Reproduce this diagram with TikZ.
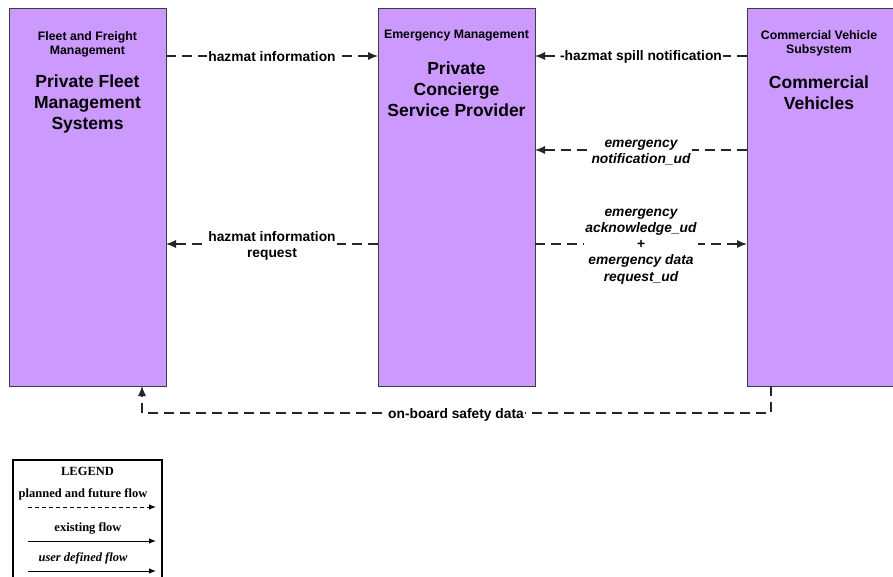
\documentclass[tikz,border=0pt]{standalone}
\usepackage{fontspec}
\setmainfont{Liberation Sans}
\newfontfamily\legfont{Liberation Serif}
\usetikzlibrary{arrows.meta}
\definecolor{boxfill}{RGB}{204,153,255}
\definecolor{boxline}{RGB}{60,60,70}
\begin{document}
\begin{tikzpicture}[x=1pt,y=-1pt,
  box/.style={draw=boxline, line width=1.2pt, fill=boxfill, anchor=north west, inner sep=0pt},
  hdr/.style={font=\fontsize{12.3}{14}\selectfont\bfseries, align=center, inner sep=0pt},
  ttl/.style={font=\fontsize{17.5}{21}\selectfont\bfseries, align=center, inner sep=0pt},
  lbl/.style={font=\fontsize{13.8}{16.2}\selectfont\bfseries, align=center, fill=white, inner sep=1.5pt},
  ilbl/.style={lbl, font=\fontsize{13.8}{16.2}\selectfont\bfseries\itshape},
  flow/.style={draw=black!85, line width=1.1pt, dash pattern=on 10pt off 6pt, -{Latex[length=10pt,width=8pt]}},
  leg/.style={font=\legfont\fontsize{12.5}{14}\selectfont\bfseries, inner sep=0pt},
  legarrow/.style={draw=black, line width=1pt, -{Latex[length=7pt,width=5.5pt]}}
]
\useasboundingbox (0,0) rectangle (893,577);

% boxes
\node[box, minimum width=157pt, minimum height=378pt] (fm) at (9,8) {};
\node[box, minimum width=157pt, minimum height=378pt] (em) at (378,8) {};
\node[box, minimum width=157pt, minimum height=378pt] (cv) at (747,8) {};

% box texts
\node[hdr] (fmh) at (87.5,44) {Fleet and Freight\\Management};
\node[ttl] (fmt) at (87.5,104) {Private Fleet\\Management\\Systems};
\node[hdr] (emh) at (456.5,36) {Emergency Management};
\node[ttl] (emt) at (456.5,89) {Private\\Concierge\\Service Provider};
\node[hdr] (cvh) at (819,43) {Commercial Vehicle\\Subsystem};
\node[ttl] (cvt) at (819,93) {Commercial\\Vehicles};

% coordinates for flows
\coordinate (fmR56) at (166,56);
\coordinate (emL56) at (378,56);
\coordinate (emR56) at (535,56);
\coordinate (cvL56) at (747,56);
\coordinate (emR150) at (535,150);
\coordinate (cvL150) at (747,150);
\coordinate (emR244) at (535,244);
\coordinate (cvL244) at (747,244);
\coordinate (emL244) at (378,244);
\coordinate (fmR244) at (166,244);
\coordinate (cvB) at (771,386);
\coordinate (c1) at (771,413);
\coordinate (c2) at (142,413);
\coordinate (fmB) at (142,386);

\draw[flow] (fmR56) -- (emL56);
\node[lbl] (l1) at (272,57) {hazmat information};
\draw[flow] (cvL56) -- (emR56);
\node[lbl] (l2) at (641,57) {-hazmat spill notification};
\draw[flow] (cvL150) -- (emR150);
\node[ilbl] (l3) at (641,152.5) {emergency\\notification\_ud};
\draw[flow] (emR244) -- (cvL244);
\node[ilbl] (l4) at (641,246.5) {emergency\\acknowledge\_ud\\+\\emergency data\\request\_ud};
\draw[flow] (emL244) -- (fmR244);
\node[lbl] (l5) at (272,246) {hazmat information\\request};
\draw[flow] (cvB) -- (c1) -- (c2) -- (fmB);
\node[lbl] (l6) at (456,415) {on-board safety data};

% legend
\draw[line width=1.2pt] (13,578) -- (13,460) -- (162,460) -- (162,578);
\node[leg] (lg) at (87.5,471) {LEGEND};
\node[leg] (lg1) at (83,494) {planned and future flow};
\coordinate (a1) at (28,507); \coordinate (b1) at (156,507);
\draw[legarrow, dash pattern=on 4pt off 3pt] (a1) -- (b1);
\node[leg] (lg2) at (88,528) {existing flow};
\coordinate (a2) at (28,541); \coordinate (b2) at (156,541);
\draw[legarrow] (a2) -- (b2);
\node[leg, font=\legfont\fontsize{12.5}{14}\selectfont\bfseries\itshape] (lg3) at (83,558) {user defined flow};
\coordinate (a3) at (28,571); \coordinate (b3) at (156,571);
\draw[legarrow] (a3) -- (b3);
\end{tikzpicture}
\end{document}
